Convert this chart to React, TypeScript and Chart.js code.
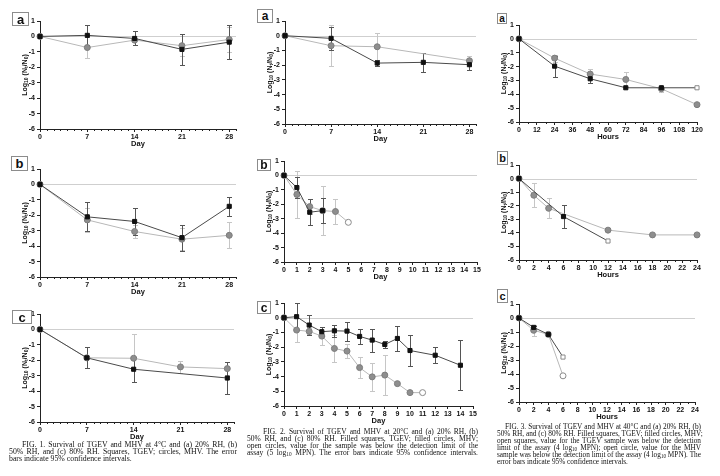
import React, { useEffect, useRef } from 'react';
import { Chart, registerables } from 'chart.js';

Chart.register(...registerables);

const SANS = '"Liberation Sans", Arial, Helvetica, sans-serif';
const SERIF = '"Liberation Serif", "Times New Roman", serif';

// ---------------- DATA ----------------
// FIG 1 (4°C)
const f1aDays = [0, 7, 14, 21, 28];
const f1aTgev = [0, 0.07, -0.13, -0.84, -0.37];
const f1aTgevErr = [0, 0.65, 0.45, 1.0, 1.08];
const f1aMhv = [0, -0.72, -0.24, -0.6, -0.2];
const f1aMhvErr = [0, 0.7, 0.3, 0.66, 0.8];

const f1bDays = [0, 7, 14, 21, 28];
const f1bTgev = [0, -2.1, -2.4, -3.45, -1.42];
const f1bTgevErr = [0, 0.95, 0.85, 0.85, 0.6];
const f1bMhv = [0, -2.3, -3.05, -3.55, -3.3];
const f1bMhvErr = [0, 0.8, 0.45, 0.7, 0.85];

const f1cTgevDays = [0, 7, 14, 28];
const f1cTgev = [0, -1.84, -2.58, -3.15];
const f1cTgevErr = [0, 0.68, 0.8, 1.05];
const f1cMhvDays = [0, 7, 14, 21, 28];
const f1cMhv = [0, -1.84, -1.87, -2.43, -2.54];
const f1cMhvErr = [0, 0.68, 1.55, 0.4, 0.42];

// FIG 2 (20°C)
const f2aTgevDays = [0, 7, 14, 21, 28];
const f2aTgev = [0, -0.18, -1.86, -1.81, -1.97];
const f2aTgevErr = [0, 0.8, 0.2, 0.65, 0.35];
const f2aMhvDays = [0, 7, 14, 28];
const f2aMhv = [0, -0.68, -0.75, -1.7];
const f2aMhvErr = [0, 1.4, 0.93, 0.3];

const f2bTgevDays = [0, 1, 2, 3];
const f2bTgev = [0, -0.84, -2.55, -2.44];
const f2bTgevErr = [0, 0.75, 0.9, 0.85];
const f2bMhvDays = [0, 1, 2, 3, 4, 5];
const f2bMhv = [0, -1.32, -2.16, -2.44, -2.5, -3.25];
const f2bMhvErr = [0, 1.6, 0.5, 1.7, 0.88, 0];
const f2bMhvOpen = [5];

const f2cTgevDays = [0, 1, 2, 3, 4, 5, 6, 7, 8, 9, 10, 12, 14];
const f2cTgev = [0, 0.07, -0.5, -0.95, -0.89, -0.91, -1.27, -1.52, -1.82, -1.41, -2.23, -2.55, -3.23];
const f2cTgevErr = [0, 0.9, 0.7, 0.3, 0.4, 0.65, 0.5, 0.78, 0.22, 0.86, 1.05, 0.56, 1.7];
const f2cMhvDays = [0, 1, 2, 3, 4, 5, 6, 7, 8, 9, 10, 11];
const f2cMhv = [0, -0.84, -0.93, -1.25, -2.09, -2.27, -3.39, -4.02, -3.9, -4.48, -5.09, -5.09];
const f2cMhvErr = [0, 0.8, 0.2, 0.6, 0.9, 0.5, 0.72, 0.95, 1.35, 0, 0, 0];
const f2cMhvOpen = [11];

// FIG 3 (40°C)
const f3aHours = [0, 24, 48, 72, 96, 120];
const f3aTgev = [0, -1.97, -2.88, -3.53, -3.53, -3.53];
const f3aTgevErr = [0, 0.75, 0.3, 0, 0, 0];
const f3aTgevOpen = [120];
const f3aMhv = [0, -1.39, -2.54, -2.93, -3.6, -4.75];
const f3aMhvErr = [0, 0.25, 0.35, 0.55, 0.2, 0];

const f3bTgevHours = [0, 6, 12];
const f3bTgev = [0, -2.8, -4.6];
const f3bTgevErr = [0, 0.87, 0];
const f3bTgevOpen = [12];
const f3bMhvHours = [0, 2, 4, 12, 18, 24];
const f3bMhv = [0, -1.23, -2.19, -3.8, -4.15, -4.15];
const f3bMhvErr = [0, 0.9, 0.75, 0, 0, 0];

const f3cHours = [0, 2, 4, 6];
const f3cTgev = [0, -0.67, -1.17, -2.79];
const f3cTgevErr = [0, 0.1, 0, 0];
const f3cTgevOpen = [6];
const f3cMhv = [0, -0.88, -1.17, -4.13];
const f3cMhvErr = [0, 0.38, 0, 0];
const f3cMhvOpen = [6];

const yTicksMin = -6;
const yTicksMax = 1;

// Captions ({..} = subscript)
const cap1 = [
  'FIG. 1. Survival of TGEV and MHV at 4°C and (a) 20% RH, (b)',
  '50% RH, and (c) 80% RH. Squares, TGEV; circles, MHV. The error',
  'bars indicate 95% confidence intervals.',
];
const cap2 = [
  'FIG. 2. Survival of TGEV and MHV at 20°C and (a) 20% RH, (b)',
  '50% RH, and (c) 80% RH. Filled squares, TGEV; filled circles, MHV;',
  'open circles, value for the sample was below the detection limit of the',
  'assay (5 log{10} MPN). The error bars indicate 95% confidence intervals.',
];
const cap3 = [
  'FIG. 3. Survival of TGEV and MHV at 40°C and (a) 20% RH, (b)',
  '50% RH, and (c) 80% RH. Filled squares, TGEV; filled circles, MHV;',
  'open squares, value for the TGEV sample was below the detection',
  'limit of the assay (4 log{10} MPN); open circle, value for the MHV',
  'sample was below the detection limit of the assay (4 log{10} MPN). The',
  'error bars indicate 95% confidence intervals.',
];

// ---------------- TYPES ----------------
type Series = { kind: 'tgev' | 'mhv'; x: number[]; y: number[]; err: number[]; open?: number[] };
type PanelProps = {
  plot: [number, number, number, number];
  xMax: number;
  xStep: number;
  xMinor: number;
  xTitle: string;
  letter: string;
  box: [number, number, number, number];
  letterSize: number;
  series: Series[];
};

function makePlugin(minor: number, major: number) {
  return {
    id: 'panelDeco',
    beforeDatasetsDraw(chart: any) {
      const { ctx, chartArea: a, scales } = chart;
      const xs = scales.x;
      const ys = scales.y;
      ctx.save();
      const y0 = Math.round(ys.getPixelForValue(0)) + 0.5;
      ctx.strokeStyle = '#cfcfcf';
      ctx.lineWidth = 1;
      ctx.beginPath();
      ctx.moveTo(a.left, y0);
      ctx.lineTo(a.right, y0);
      ctx.stroke();
      const dss = [...chart.data.datasets].reverse();
      dss.forEach((ds: any) => {
        ctx.strokeStyle = ds.errColor;
        ctx.lineWidth = 1;
        ds.data.forEach((p: any, i: number) => {
          const e = ds.errors[i];
          if (!e) return;
          const px = Math.round(xs.getPixelForValue(p.x)) + 0.5;
          const yt = Math.round(ys.getPixelForValue(p.y + e)) + 0.5;
          const yb = Math.round(ys.getPixelForValue(p.y - e)) + 0.5;
          ctx.beginPath();
          ctx.moveTo(px, yt);
          ctx.lineTo(px, yb);
          ctx.moveTo(px - 2.5, yt);
          ctx.lineTo(px + 2.5, yt);
          ctx.moveTo(px - 2.5, yb);
          ctx.lineTo(px + 2.5, yb);
          ctx.stroke();
        });
      });
      ctx.restore();
    },
    afterDraw(chart: any) {
      const { ctx, chartArea: a, scales } = chart;
      const xs = scales.x;
      ctx.save();
      if (minor > 0) {
        ctx.strokeStyle = '#222';
        ctx.lineWidth = 1;
        ctx.beginPath();
        for (let v = 0; v <= xs.max + 1e-9; v += minor) {
          if (Math.abs(v / major - Math.round(v / major)) < 1e-6) continue;
          const px = Math.round(xs.getPixelForValue(v)) + 0.5;
          ctx.moveTo(px, a.bottom);
          ctx.lineTo(px, a.bottom + 2);
        }
        ctx.stroke();
      }
      // y title with subscripts
      const parts: [string, boolean][] = [
        ['Log', false], ['10', true], [' (N', false], ['t', true], ['/N', false], ['0', true], [')', false],
      ];
      const big = `bold 7px ${SANS}`;
      const small = `bold 5px ${SANS}`;
      let total = 0;
      parts.forEach(([s, sub]) => {
        ctx.font = sub ? small : big;
        total += ctx.measureText(s).width;
      });
      ctx.translate(a.left - 15, (a.top + a.bottom) / 2);
      ctx.rotate(-Math.PI / 2);
      ctx.fillStyle = '#111';
      ctx.textBaseline = 'middle';
      ctx.textAlign = 'left';
      let pos = -total / 2;
      parts.forEach(([s, sub]) => {
        ctx.font = sub ? small : big;
        ctx.fillText(s, pos, sub ? 2 : 0);
        pos += ctx.measureText(s).width;
      });
      ctx.restore();
    },
  };
}

const tickFont = { family: SANS, size: 7, weight: 'bold' as const };

function Panel(p: PanelProps) {
  const ref = useRef<HTMLCanvasElement | null>(null);
  const [l, t, r, b] = p.plot;
  const cl = l - 40;
  const ct = t - 8;
  const W = r + 8 - cl;
  const H = b + 22 - ct;
  useEffect(() => {
    if (!ref.current) return;
    const datasets = p.series.map((s) => {
      const tg = s.kind === 'tgev';
      const open = s.open || [];
      return {
        data: s.x.map((x, i) => ({ x, y: s.y[i] })),
        errors: s.err,
        errColor: tg ? '#555555' : '#c6c6c6',
        showLine: true,
        borderColor: tg ? '#4a4a4a' : '#b8b8b8',
        borderWidth: 1,
        pointStyle: tg ? 'rect' : 'circle',
        pointRadius: tg ? 2.9 : 3,
        pointBackgroundColor: s.x.map((x) => (open.includes(x) ? '#ffffff' : tg ? '#111111' : '#8e8e8e')),
        pointBorderColor: s.x.map((x) => (open.includes(x) ? '#8a8a8a' : tg ? '#111111' : '#7c7c7c')),
        pointBorderWidth: 1,
        clip: false,
        tension: 0,
      };
    });
    const chart = new Chart(ref.current, {
      type: 'scatter',
      data: { datasets: datasets as any },
      options: {
        responsive: false,
        animation: false,
        devicePixelRatio: 1,
        events: [],
        layout: { padding: { top: 8, right: 8, left: 0, bottom: 0 } },
        plugins: { legend: { display: false }, tooltip: { enabled: false } },
        scales: {
          x: {
            type: 'linear',
            min: 0,
            max: p.xMax,
            afterFit: (s: any) => { s.height = 22; },
            ticks: {
              stepSize: p.xStep,
              includeBounds: false,
              autoSkip: false,
              maxRotation: 0,
              minRotation: 0,
              padding: 1,
              color: '#111',
              font: tickFont,
            },
            grid: { drawOnChartArea: false, drawTicks: true, tickLength: 3, color: '#222', tickColor: '#222' },
            border: { display: true, color: '#222', width: 1 },
            title: {
              display: true,
              text: p.xTitle,
              color: '#111',
              font: { family: SANS, size: 7.5, weight: 'bold' },
              padding: { top: 0, bottom: 3 },
            },
          },
          y: {
            type: 'linear',
            min: yTicksMin,
            max: yTicksMax,
            afterFit: (s: any) => { s.width = 40; },
            ticks: { stepSize: 1, padding: 2, color: '#111', font: tickFont },
            grid: { drawOnChartArea: false, drawTicks: true, tickLength: 3, color: '#222', tickColor: '#222' },
            border: { display: true, color: '#222', width: 1 },
          },
        },
      } as any,
      plugins: [makePlugin(p.xMinor, p.xStep) as any],
    });
    return () => chart.destroy();
  }, []);
  return (
    <>
      <canvas
        ref={ref}
        width={W}
        height={H}
        style={{ position: 'absolute', left: cl, top: ct, width: W, height: H }}
      />
      <div
        style={{
          position: 'absolute',
          left: p.box[0],
          top: p.box[1],
          width: p.box[2],
          height: p.box[3],
          border: '1px solid #8c8c8c',
          boxSizing: 'border-box',
          background: '#fff',
          fontFamily: SANS,
          fontWeight: 'bold',
          fontSize: p.letterSize,
          display: 'flex',
          alignItems: 'center',
          justifyContent: 'center',
          lineHeight: 1,
          color: '#111',
        }}
      >
        {p.letter}
      </div>
    </>
  );
}

function renderSub(text: string) {
  return text.split(/(\{[^}]+\})/).map((part, i) =>
    part.startsWith('{') ? (
      <span key={i} style={{ fontSize: '0.7em', verticalAlign: '-0.2em', lineHeight: 0 }}>
        {part.slice(1, -1)}
      </span>
    ) : (
      <span key={i}>{part}</span>
    )
  );
}

function Caption({ lines, left, indentLeft, right, top, size }: { lines: string[]; left: number; indentLeft: number; right: number; top: number; size: number }) {
  return (
    <>
      {lines.map((ln, i) => {
        const last = i === lines.length - 1 && lines.length !== 4;
        const lx = i === 0 ? indentLeft : left;
        return (
          <div
            key={i}
            style={{
              position: 'absolute',
              left: lx,
              top: top + i * 7,
              width: right - lx,
              fontFamily: SERIF,
              fontSize: size,
              lineHeight: '7px',
              whiteSpace: 'nowrap',
              textAlign: last ? 'left' : 'justify',
              textAlignLast: last ? 'left' : 'justify',
              color: '#111',
            } as any}
          >
            {renderSub(ln)}
          </div>
        );
      })}
    </>
  );
}

export default function App() {
  return (
    <div style={{ position: 'absolute', left: 0, top: 0, width: 720, height: 476, background: '#fff', overflow: 'hidden' }}>
      {/* FIG 1 */}
      <Panel plot={[40, 21, 236, 129]} xMax={29} xStep={7} xMinor={1} xTitle="Day" letter="a" box={[12, 12, 17, 14]} letterSize={13}
        series={[
          { kind: 'tgev', x: f1aDays, y: f1aTgev, err: f1aTgevErr },
          { kind: 'mhv', x: f1aDays, y: f1aMhv, err: f1aMhvErr },
        ]} />
      <Panel plot={[40, 169, 236, 277]} xMax={29} xStep={7} xMinor={1} xTitle="Day" letter="b" box={[11, 156, 17, 15]} letterSize={13}
        series={[
          { kind: 'tgev', x: f1bDays, y: f1bTgev, err: f1bTgevErr },
          { kind: 'mhv', x: f1bDays, y: f1bMhv, err: f1bMhvErr },
        ]} />
      <Panel plot={[40, 314, 234, 422]} xMax={29} xStep={7} xMinor={1} xTitle="Day" letter="c" box={[12, 310, 20, 14]} letterSize={13}
        series={[
          { kind: 'tgev', x: f1cTgevDays, y: f1cTgev, err: f1cTgevErr },
          { kind: 'mhv', x: f1cMhvDays, y: f1cMhv, err: f1cMhvErr },
        ]} />
      {/* FIG 2 */}
      <Panel plot={[285, 21, 476, 124]} xMax={29} xStep={7} xMinor={1} xTitle="Day" letter="a" box={[257, 9, 16, 14]} letterSize={12}
        series={[
          { kind: 'tgev', x: f2aTgevDays, y: f2aTgev, err: f2aTgevErr },
          { kind: 'mhv', x: f2aMhvDays, y: f2aMhv, err: f2aMhvErr },
        ]} />
      <Panel plot={[284, 161, 477, 262]} xMax={15} xStep={1} xMinor={0} xTitle="Day" letter="b" box={[257, 159, 14, 12]} letterSize={12}
        series={[
          { kind: 'tgev', x: f2bTgevDays, y: f2bTgev, err: f2bTgevErr },
          { kind: 'mhv', x: f2bMhvDays, y: f2bMhv, err: f2bMhvErr, open: f2bMhvOpen },
        ]} />
      <Panel plot={[284, 303, 473, 406]} xMax={15} xStep={1} xMinor={0} xTitle="Day" letter="c" box={[257, 301, 14, 13]} letterSize={12}
        series={[
          { kind: 'tgev', x: f2cTgevDays, y: f2cTgev, err: f2cTgevErr },
          { kind: 'mhv', x: f2cMhvDays, y: f2cMhv, err: f2cMhvErr, open: f2cMhvOpen },
        ]} />
      {/* FIG 3 */}
      <Panel plot={[519, 25, 697, 122]} xMax={120} xStep={12} xMinor={6} xTitle="Hours" letter="a" box={[497, 13, 10, 11]} letterSize={10}
        series={[
          { kind: 'tgev', x: f3aHours, y: f3aTgev, err: f3aTgevErr, open: f3aTgevOpen },
          { kind: 'mhv', x: f3aHours, y: f3aMhv, err: f3aMhvErr },
        ]} />
      <Panel plot={[519, 165, 697, 260]} xMax={24} xStep={2} xMinor={1} xTitle="Hours" letter="b" box={[497, 151, 11, 14]} letterSize={11}
        series={[
          { kind: 'tgev', x: f3bTgevHours, y: f3bTgev, err: f3bTgevErr, open: f3bTgevOpen },
          { kind: 'mhv', x: f3bMhvHours, y: f3bMhv, err: f3bMhvErr },
        ]} />
      <Panel plot={[519, 304, 695, 402]} xMax={24} xStep={2} xMinor={1} xTitle="Hours" letter="c" box={[497, 289, 11, 14]} letterSize={11}
        series={[
          { kind: 'tgev', x: f3cHours, y: f3cTgev, err: f3cTgevErr, open: f3cTgevOpen },
          { kind: 'mhv', x: f3cHours, y: f3cMhv, err: f3cMhvErr, open: f3cMhvOpen },
        ]} />
      {/* Captions */}
      <Caption lines={cap1} left={9} indentLeft={22} right={237} top={441} size={7.8} />
      <Caption lines={cap2} left={247} indentLeft={263} right={478} top={428} size={7.5} />
      <Caption lines={cap3} left={497} indentLeft={505} right={701} top={423} size={7.3} />
    </div>
  );
}
